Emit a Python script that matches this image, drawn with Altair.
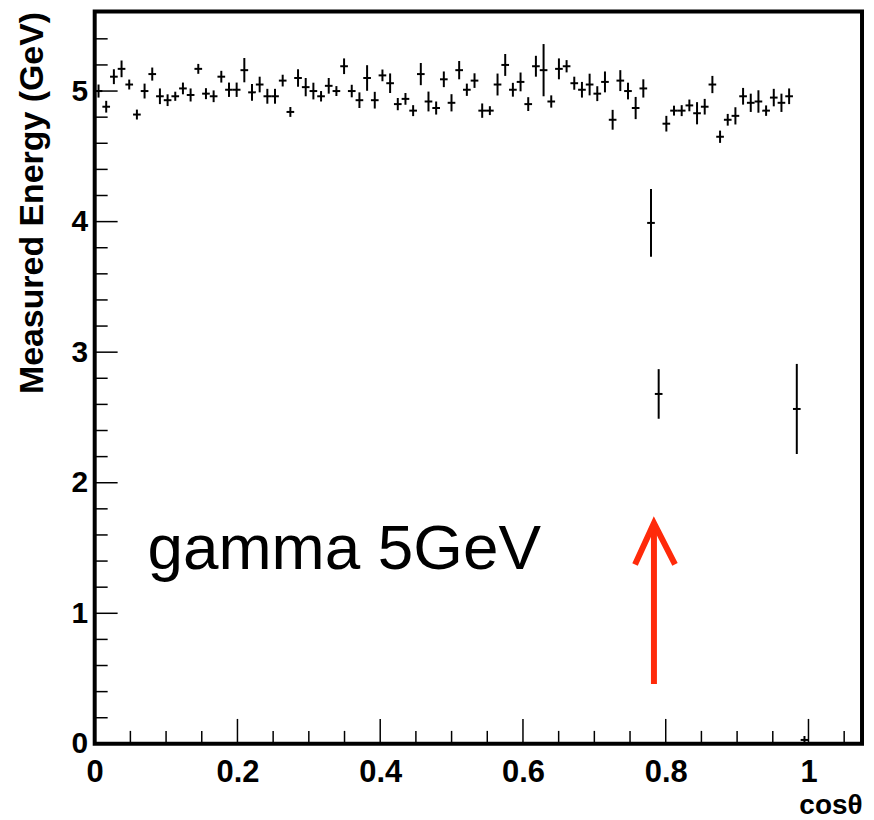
import altair as alt
import pandas as pd

# ---- data ----
BIN_W = 0.01075
bins = list(range(0, 93))
energy = [5.00, 4.88, 5.11, 5.17, 5.05, 4.82, 5.00, 5.13, 4.96, 4.93,
          4.96, 5.02, 4.97, 5.17, 4.98, 4.96, 5.11, 5.01, 5.01, 5.16,
          4.99, 5.05, 4.96, 4.96, 5.08, 4.84, 5.10, 5.03, 5.00, 4.96,
          5.04, 5.00, 5.19, 5.00, 4.93, 5.10, 4.93, 5.12, 5.06, 4.90,
          4.94, 4.85, 5.13, 4.92, 4.87, 5.09, 4.91, 5.16, 5.01, 5.08,
          4.85, 4.85, 5.05, 5.20, 5.01, 5.07, 4.90, 5.19, 5.16, 4.92,
          5.17, 5.19, 5.06, 5.01, 5.05, 4.98, 5.07, 4.78, 5.08, 5.00,
          4.87, 5.02, 3.99, 2.68, 4.75, 4.85, 4.85, 4.89, 4.83, 4.88,
          5.05, 4.65, 4.78, 4.81, 4.96, 4.91, 4.92, 4.85, 4.95, 4.91,
          4.96, 2.565, 0.03]
errors = [0.05, 0.045, 0.057, 0.064, 0.038, 0.038, 0.057, 0.05, 0.06, 0.045,
          0.035, 0.045, 0.05, 0.038, 0.042, 0.045, 0.045, 0.055, 0.055, 0.093,
          0.064, 0.06, 0.057, 0.057, 0.045, 0.038, 0.067, 0.07, 0.064, 0.04,
          0.06, 0.038, 0.06, 0.048, 0.06, 0.098, 0.064, 0.045, 0.075, 0.047,
          0.045, 0.042, 0.085, 0.076, 0.05, 0.06, 0.066, 0.07, 0.047, 0.056,
          0.055, 0.034, 0.084, 0.084, 0.053, 0.072, 0.053, 0.08, 0.2, 0.047,
          0.08, 0.047, 0.05, 0.06, 0.083, 0.057, 0.08, 0.076, 0.08, 0.064,
          0.085, 0.07, 0.26, 0.19, 0.06, 0.038, 0.042, 0.045, 0.085, 0.06,
          0.066, 0.047, 0.045, 0.066, 0.064, 0.07, 0.086, 0.04, 0.067, 0.07,
          0.06, 0.345, 0.03]

x_major = [0, 0.2, 0.4, 0.6, 0.8, 1.0]
x_minor = [0.05, 0.1, 0.15, 0.25, 0.3, 0.35, 0.45, 0.5, 0.55, 0.65, 0.7,
           0.75, 0.85, 0.9, 0.95, 1.05]
y_major = [1, 2, 3, 4, 5]
y_minor = [0.2, 0.4, 0.6, 0.8, 1.2, 1.4, 1.6, 1.8, 2.2, 2.4, 2.6, 2.8,
           3.2, 3.4, 3.6, 3.8, 4.2, 4.4, 4.6, 4.8, 5.2, 5.4]

label_text = ["gamma 5GeV"]
arrow_x = [0.7835]
arrow_shaft = [0.458, 1.64]
arrow_head_x = [0.757, 0.7835, 0.813]
arrow_head_y = [1.374, 1.69, 1.374]

# ---- layout ----
W, H = 770, 735
XDOM = [0, 1.075]
YDOM = [0, 5.61]
FONT = "Liberation Sans"
RED = "#ff2a0a"

df = pd.DataFrame({
    "bin": bins,
    "E": energy,
    "err": errors,
})
df["x"] = (df["bin"] + 0.5) * BIN_W
df["xl"] = df["bin"] * BIN_W
df["xr"] = (df["bin"] + 1) * BIN_W
df["lo"] = df["E"] - df["err"]
df["hi"] = df["E"] + df["err"]

xs = alt.Scale(domain=XDOM, nice=False, zero=False)
ys = alt.Scale(domain=YDOM, nice=False, zero=False)

xaxis = alt.Axis(values=x_major, labelExpr="format(datum.value, '~g')",
                 grid=False, ticks=False, domain=False, labelFlush=False,
                 labelFont=FONT, labelFontWeight="bold", labelFontSize=31,
                 labelPadding=14, labelColor="black",
                 title="cosθ", titleFont=FONT, titleFontWeight="bold",
                 titleFontSize=28, titleAnchor="end", titleAlign="right",
                 titlePadding=4, titleColor="black")
yaxis = alt.Axis(values=[0] + y_major, labelExpr="format(datum.value, '~g')",
                 grid=False, ticks=False, domain=False, labelFlush=False,
                 labelFont=FONT, labelFontWeight="bold", labelFontSize=30,
                 labelPadding=7, labelColor="black",
                 title="Measured Energy (GeV)", titleFont=FONT,
                 titleFontWeight="bold", titleFontSize=34, titleAnchor="end",
                 titlePadding=22, titleColor="black")

vbars = alt.Chart(df).mark_rule(color="black", strokeWidth=2).encode(
    x=alt.X("x:Q", scale=xs, axis=xaxis),
    y=alt.Y("lo:Q", scale=ys, axis=yaxis),
    y2="hi:Q",
)
hbars = alt.Chart(df).mark_rule(color="black", strokeWidth=2).encode(
    x=alt.X("xl:Q", scale=xs), x2="xr:Q", y=alt.Y("E:Q", scale=ys))

def tick_layer(vals, channel, length):
    d = pd.DataFrame({"v": vals})
    if channel == "y":
        return alt.Chart(d).mark_rule(color="black", strokeWidth=1.5).encode(
            y=alt.Y("v:Q", scale=ys), x=alt.value(0), x2=alt.value(length))
    return alt.Chart(d).mark_rule(color="black", strokeWidth=1.5).encode(
        x=alt.X("v:Q", scale=xs), y=alt.value(H), y2=alt.value(H - length))

ticks = (tick_layer(y_major, "y", 23) + tick_layer(y_minor, "y", 13)
         + tick_layer(x_major, "x", 25) + tick_layer(x_minor, "x", 13))

txt = alt.Chart(pd.DataFrame({"x": [0.074], "y": [1.34], "t": label_text})).mark_text(
    align="left", baseline="alphabetic", font=FONT, fontSize=64, color="black"
).encode(x=alt.X("x:Q", scale=xs), y=alt.Y("y:Q", scale=ys), text="t:N")

shaft = alt.Chart(pd.DataFrame({"x": arrow_x, "y": [arrow_shaft[0]], "y2": [arrow_shaft[1]]})).mark_rule(
    color=RED, strokeWidth=6).encode(x=alt.X("x:Q", scale=xs), y=alt.Y("y:Q", scale=ys), y2="y2:Q")
head = alt.Chart(pd.DataFrame({"x": arrow_head_x, "y": arrow_head_y, "o": [0, 1, 2]})).mark_line(
    color=RED, strokeWidth=6, strokeJoin="miter").encode(
    x=alt.X("x:Q", scale=xs), y=alt.Y("y:Q", scale=ys), order="o:Q")

chart = alt.layer(vbars, hbars, ticks, txt, shaft, head).properties(
    width=W, height=H,
    background="white",
    autosize=alt.AutoSizeParams(type="none"),
    padding={"left": 87, "top": 2, "right": 4, "bottom": 76},
).configure_view(stroke="black", strokeWidth=4)

chart.save("out.html", embed_options={"renderer": "svg", "actions": False})
